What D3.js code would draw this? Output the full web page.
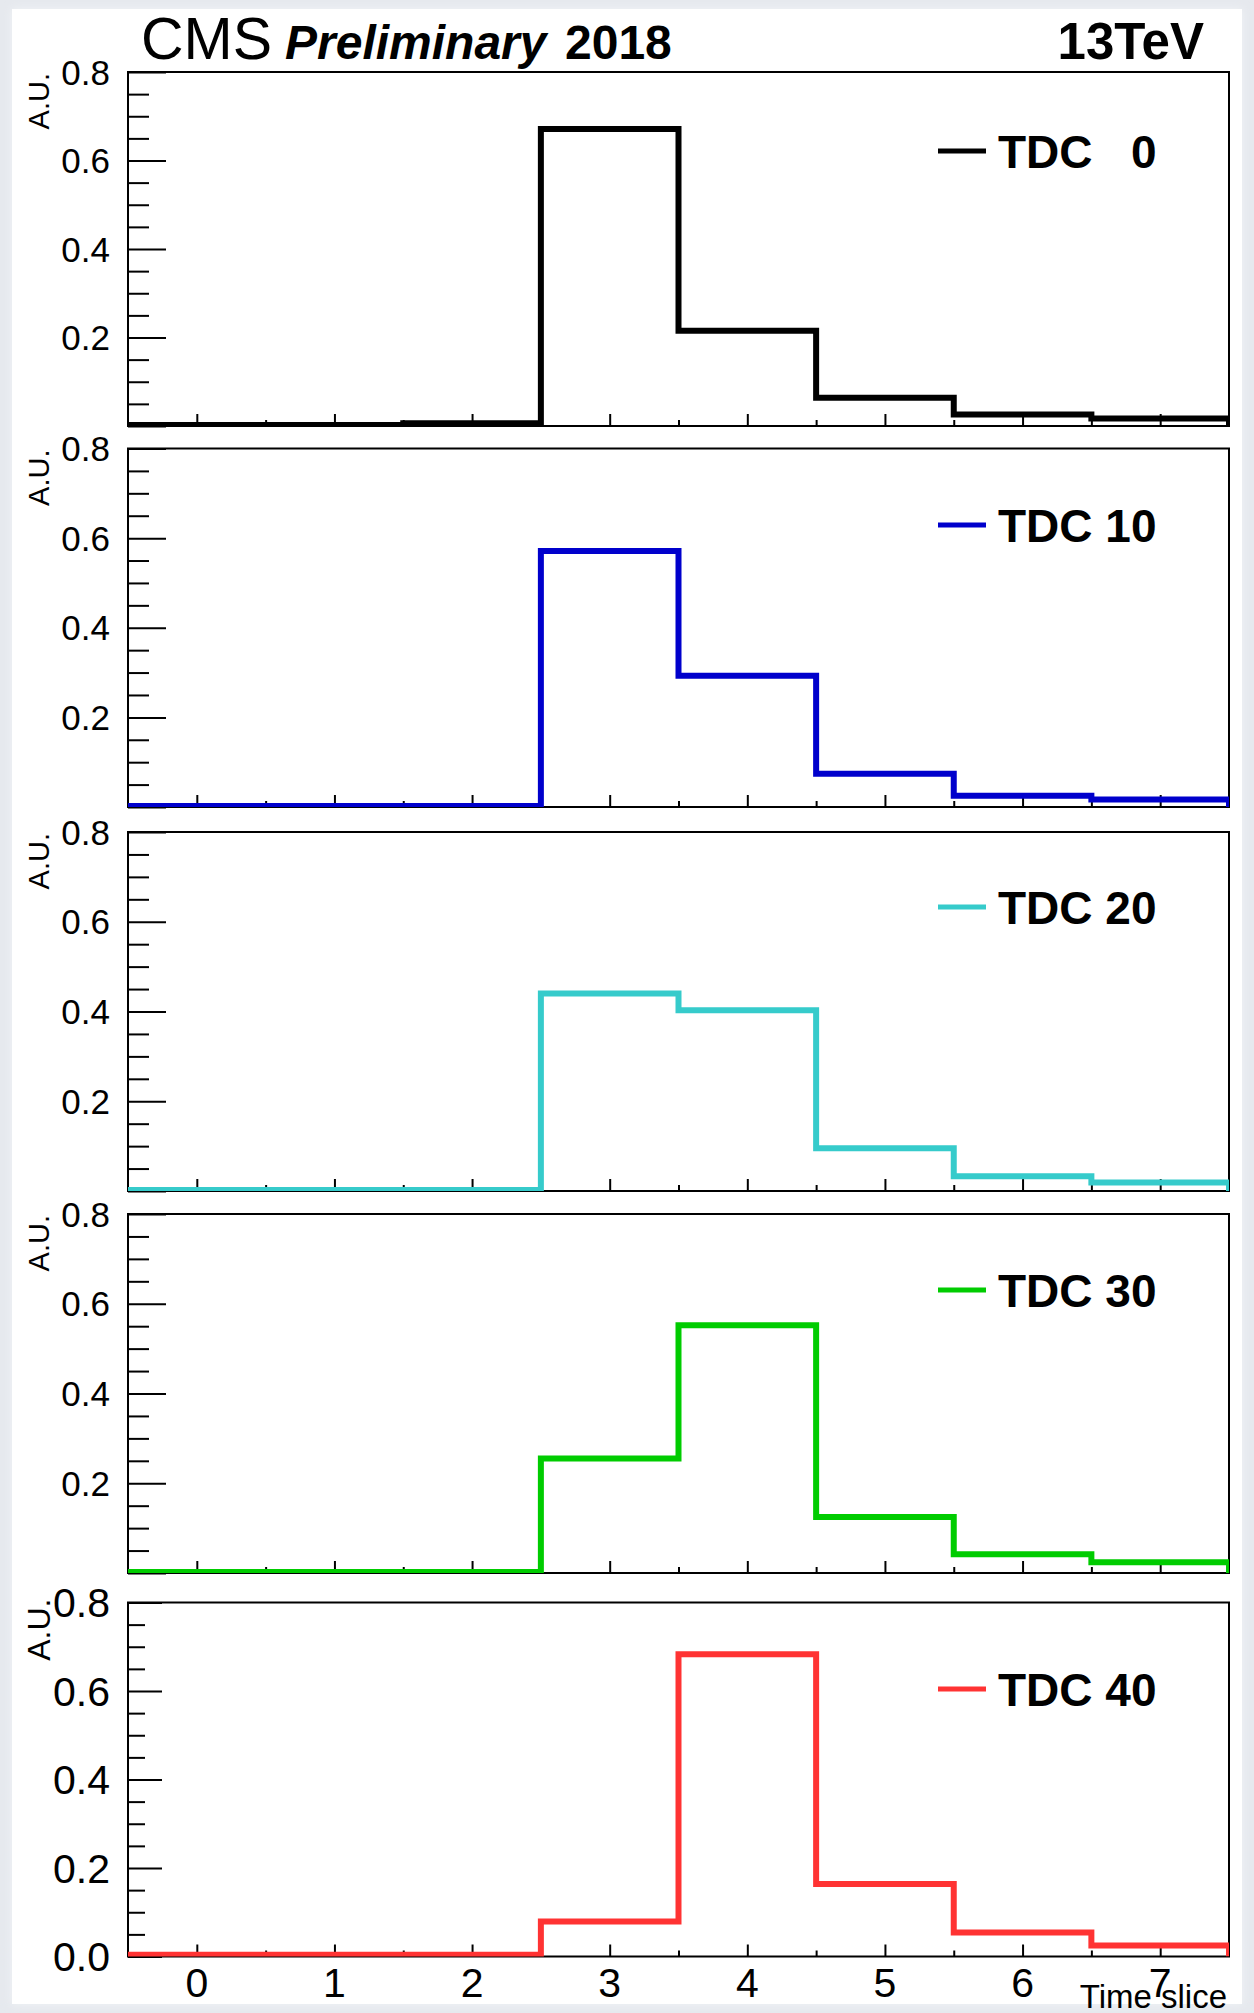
<!DOCTYPE html>
<html>
<head>
<meta charset="utf-8">
<script src="https://cdn.jsdelivr.net/npm/d3@7"></script>
<style>
  html, body { margin: 0; padding: 0; background: #e6e9ee; }
  svg { display: block; }
  text { font-family: "Liberation Sans", Arial, Helvetica, sans-serif; }
</style>
</head>
<body>
<svg id="chart" width="1254" height="2013"></svg>
<script>
// Pulse shape in each time slice for different TDC settings (normalised, arbitrary units)
const timeSlices = [0, 1, 2, 3, 4, 5, 6, 7];
const tdc0  = [0.002, 0.002, 0.006, 0.671, 0.215, 0.064, 0.026, 0.017];
const tdc10 = [0.002, 0.002, 0.002, 0.571, 0.293, 0.074, 0.025, 0.017];
const tdc20 = [0.002, 0.002, 0.002, 0.440, 0.403, 0.095, 0.033, 0.019];
const tdc30 = [0.002, 0.002, 0.002, 0.255, 0.552, 0.125, 0.042, 0.024];
const tdc40 = [0.004, 0.004, 0.004, 0.079, 0.683, 0.164, 0.054, 0.025];
const tdcSettings = [0, 10, 20, 30, 40];
const seriesValues = [tdc0, tdc10, tdc20, tdc30, tdc40];
const yMajorTicks = [0, 0.2, 0.4, 0.6, 0.8];
const xTickLabels = ["0", "1", "2", "3", "4", "5", "6", "7"];

// legend label, setting right-aligned in a two-digit field (figure space pads)
const legendLabel = n => "TDC " + String(n).padStart(2, "\u2007");

// Styling and layout
const seriesColors = ["#000000", "#0000cc", "#36cbcb", "#00cc00", "#ff3333"];
const frameLeft = 128, frameRight = 1229;
const panels = [
  { top: 72,    bottom: 426,    legendY: 151, labelSize: 35, bottomAxis: false },
  { top: 448.5, bottom: 807,    legendY: 525, labelSize: 35, bottomAxis: false },
  { top: 832,   bottom: 1191,   legendY: 907, labelSize: 35, bottomAxis: false },
  { top: 1214,  bottom: 1573,   legendY: 1290, labelSize: 35, bottomAxis: false },
  { top: 1602.5, bottom: 1956.5, legendY: 1689, labelSize: 41, bottomAxis: true }
];

const svg = d3.select("#chart");

// page background with a white canvas
svg.append("rect").attr("x", 0).attr("y", 0).attr("width", 1254).attr("height", 2013).attr("fill", "#e6e9ee");
const defs = svg.append("defs");
const blur = defs.append("filter").attr("id", "soft").attr("x", "-5%").attr("y", "-5%").attr("width", "110%").attr("height", "110%");
blur.append("feGaussianBlur").attr("stdDeviation", 4);
svg.append("rect").attr("x", 12).attr("y", 9).attr("width", 1230).attr("height", 1995)
  .attr("fill", "#f2f4f7").attr("filter", "url(#soft)");
svg.append("rect").attr("x", 12).attr("y", 9).attr("width", 1230).attr("height", 1995).attr("fill", "#ffffff");

const x = d3.scaleLinear().domain([-0.5, 7.5]).range([frameLeft, frameRight]);

panels.forEach((p, i) => {
  const g = svg.append("g");
  const y = d3.scaleLinear().domain([0, 0.8]).range([p.bottom, p.top]);
  const big = p.bottomAxis;

  // histogram outline
  const pts = [[-0.5, 0]];
  seriesValues[i].forEach((v, k) => pts.push([timeSlices[k] - 0.5, v]));
  pts.push([7.5, seriesValues[i][7]]);
  pts.push([7.5, 0]);
  const line = d3.line().x(d => x(d[0])).y(d => y(d[1])).curve(d3.curveStepAfter);

  const clipId = "clip" + i;
  defs.append("clipPath").attr("id", clipId).append("rect")
    .attr("x", frameLeft).attr("y", p.top - 4).attr("width", frameRight - frameLeft).attr("height", p.bottom - p.top + 4);

  // frame
  g.append("rect").attr("x", frameLeft).attr("y", p.top)
    .attr("width", frameRight - frameLeft).attr("height", p.bottom - p.top)
    .attr("fill", "none").attr("stroke", "#000").attr("stroke-width", 2);

  // y axis: major and minor ticks pointing inward
  const yMinor = d3.range(0, 0.8001, 0.05).filter(v => yMajorTicks.every(t => Math.abs(t - v) > 1e-6));
  const majLen = big ? 34 : 38, minLen = big ? 17 : 21;
  const yMaj = g.append("g").attr("transform", `translate(${frameLeft},0)`)
    .call(d3.axisRight(y).tickValues(yMajorTicks).tickSize(majLen).tickFormat(""));
  const yMin = g.append("g").attr("transform", `translate(${frameLeft},0)`)
    .call(d3.axisRight(y).tickValues(yMinor).tickSize(minLen).tickFormat(""));
  [yMaj, yMin].forEach(a => {
    a.select(".domain").remove();
    a.selectAll("line").attr("stroke", "#000").attr("stroke-width", 2);
  });
  // y tick labels
  const yLabels = big ? yMajorTicks : yMajorTicks.filter(v => v > 0);
  g.selectAll("text.ylab").data(yLabels).enter().append("text")
    .attr("class", "ylab")
    .attr("x", 110).attr("y", d => y(d))
    .attr("dy", "0.36em")
    .attr("text-anchor", "end")
    .attr("font-size", p.labelSize)
    .attr("fill", "#000")
    .text(d => d3.format(".1f")(d));

  // x axis ticks (integers major, half-integers minor) pointing up
  const xMaj = g.append("g").attr("transform", `translate(0,${p.bottom})`)
    .call(d3.axisTop(x).tickValues(timeSlices).tickSize(12).tickFormat(""));
  const xMin = g.append("g").attr("transform", `translate(0,${p.bottom})`)
    .call(d3.axisTop(x).tickValues(d3.range(0.5, 7, 1)).tickSize(6).tickFormat(""));
  [xMaj, xMin].forEach(a => {
    a.select(".domain").remove();
    a.selectAll("line").attr("stroke", "#000").attr("stroke-width", 2);
  });

  // the histogram
  g.append("path").datum(pts)
    .attr("d", line)
    .attr("fill", "none")
    .attr("stroke", seriesColors[i])
    .attr("stroke-width", 6)
    .attr("stroke-linejoin", "miter")
    .attr("clip-path", `url(#${clipId})`);

  // axis title
  const auSize = big ? 32 : 29;
  g.append("text")
    .attr("transform", `translate(${big ? 50 : 49},${big ? p.top - 4 : p.top + 1}) rotate(-90)`)
    .attr("text-anchor", "end")
    .attr("font-size", auSize)
    .attr("fill", "#000")
    .text("A.U.");

  // legend entry
  g.append("line")
    .attr("x1", 938).attr("x2", 986)
    .attr("y1", p.legendY).attr("y2", p.legendY)
    .attr("stroke", seriesColors[i]).attr("stroke-width", 5);
  g.append("text")
    .attr("x", 998).attr("y", p.legendY)
    .attr("dy", "0.36em")
    .attr("font-size", 46)
    .attr("font-weight", "bold")
    .attr("fill", "#000")
    .text(legendLabel(tdcSettings[i]));

  if (big) {
    g.selectAll("text.xlab").data(timeSlices).enter().append("text")
      .attr("class", "xlab")
      .attr("x", d => x(d)).attr("y", 1997)
      .attr("text-anchor", "middle")
      .attr("font-size", 41)
      .attr("fill", "#000")
      .text((d, k) => xTickLabels[k]);
    g.append("text")
      .attr("x", 1227).attr("y", 2008)
      .attr("text-anchor", "end")
      .attr("font-size", 33)
      .attr("fill", "#000")
      .text("Time slice");
  }
});

// header
svg.append("text").attr("x", 141).attr("y", 59).attr("font-size", 59).attr("fill", "#000").text("CMS");
svg.append("text").attr("x", 285).attr("y", 59).attr("font-size", 48).attr("font-weight", "bold")
  .attr("font-style", "italic").attr("fill", "#000").text("Preliminary");
svg.append("text").attr("x", 565).attr("y", 59).attr("font-size", 48).attr("font-weight", "bold")
  .attr("fill", "#000").text("2018");
svg.append("text").attr("x", 1204).attr("y", 59).attr("text-anchor", "end").attr("font-size", 51)
  .attr("font-weight", "bold").attr("fill", "#000").text("13TeV");
</script>
</body>
</html>
